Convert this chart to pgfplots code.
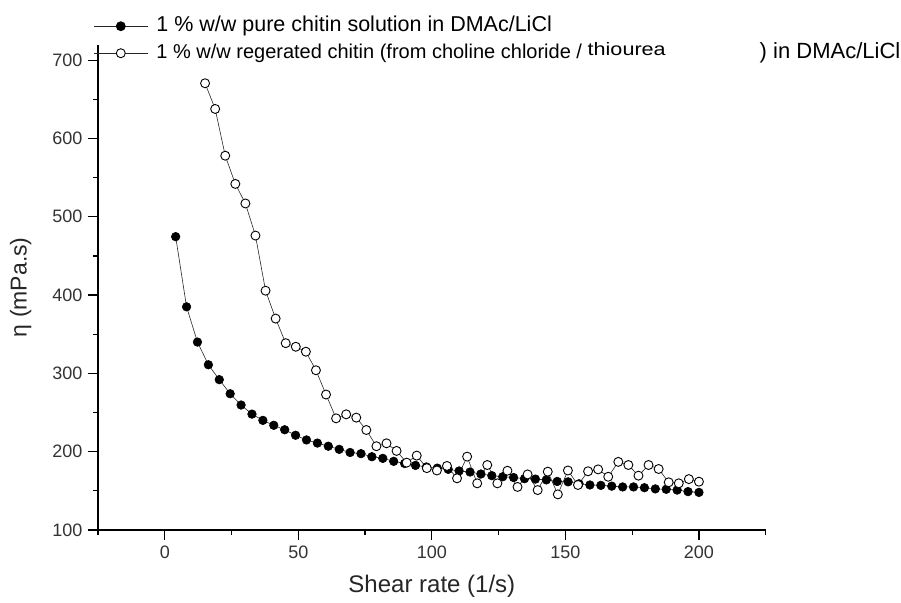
\documentclass[border=0pt]{standalone}
\usepackage{fontspec}
\setmainfont{Liberation Sans}
\usepackage{graphicx}
\usepackage{pgfplots}
\pgfplotsset{compat=1.18}

\pgfplotstableread{
x y
4.08 474.6
8.16 385
12.24 340
16.33 311
20.41 292
24.49 274
28.57 259.6
32.65 248
36.73 240
40.82 233.7
44.90 228
48.98 221
53.06 215
57.14 211
61.22 207
65.31 203
69.39 199
73.47 197.5
77.55 193.6
81.63 191.5
85.71 187.7
89.80 185
93.88 182.5
97.96 180.5
102.04 179
106.12 177.5
110.20 175.4
114.29 174
118.37 171.5
122.45 169.4
126.53 168
130.61 167
134.69 165.5
138.78 165
142.86 164
146.94 162
151.02 161.5
155.10 159
159.18 157.5
163.27 157
167.35 156
171.43 155
175.51 155
179.59 154
183.67 152.5
187.76 152
191.84 151
195.92 149
200.00 148
}\pure

\pgfplotstableread{
x y
15.09 670.5
18.87 637.7
22.64 578
26.42 542
30.19 517
33.96 476
37.74 405.6
41.51 370
45.28 338.6
49.06 334
52.83 327.7
56.60 304
60.38 273
64.15 242.6
67.92 247.7
71.70 243.5
75.47 227.7
79.25 207
83.02 210.7
86.79 201
90.57 186
94.34 195
98.11 179
101.89 176
105.66 181.8
109.43 166
113.21 193.7
116.98 159.6
120.75 183
124.53 159.6
128.30 175.7
132.08 155
135.85 171
139.62 151
143.40 174.5
147.17 145.5
150.94 176
154.72 157.5
158.49 175
162.26 177.4
166.04 168
169.81 187
173.58 183
177.36 169.4
181.13 183
184.91 177.9
188.68 160.9
192.45 159.6
196.23 165
200.00 161.7
}\regen

\begin{document}
\begin{tikzpicture}[x=1pt,y=1pt]
\useasboundingbox (0,0) rectangle (901,602);
\begin{axis}[
  at={(98pt,72pt)}, anchor=south west,
  scale only axis, width=667.7pt, height=485.5pt,
  xmin=-25, xmax=225, ymin=100, ymax=720,
  axis x line*=bottom, axis y line*=left,
  axis line style={line width=1.4pt, black},
  xtick={0,50,...,200}, ytick={100,200,...,700},
  minor xtick={-25,25,75,125,175,225}, minor ytick={150,250,...,650},
  tick align=outside, major tick length=10pt, minor tick length=5pt,
  every tick/.style={line width=1.2pt, black},
  ticklabel style={font=\fontsize{18}{18}\selectfont, text=black!80},
  /pgf/number format/assume math mode=true,
  xticklabel style={yshift=-2pt},
  yticklabel style={xshift=-2pt},
  xlabel={Shear rate (1/s)}, ylabel={η (mPa.s)},
  label style={text=black!85},
  xlabel style={font=\fontsize{24}{24}\selectfont, at={(axis description cs:0.5,0)}, anchor=north, yshift=-42pt},
  ylabel style={font=\fontsize{23}{23}\selectfont, at={(axis description cs:0,0.5)}, anchor=south, yshift=63pt},
  legend style={at={(-0.0075,1.0566)}, anchor=north west, draw=none, fill=none,
    inner sep=0pt, font=\fontsize{21.5}{21.5}\selectfont,
    nodes={inner sep=0pt, text height=14pt, text depth=4pt},
    row sep=9pt,
    /tikz/every odd column/.append style={column sep=8pt}},
  legend cell align=left,
  legend image code/.code={\draw[#1, line width=1.2pt, mark repeat=2, mark phase=2] plot coordinates {(0pt,0pt) (27pt,0pt) (54pt,0pt)};},
  clip=false,
]
\addplot[black!85, line width=0.6pt, mark=*, mark size=4.3pt, mark options={solid, fill=black, draw=black}] table {\pure};
\addlegendentry{1 \% w/w pure chitin solution in DMAc/LiCl}
\addplot[black!85, line width=0.6pt, mark=*, mark size=4.5pt, mark options={solid, fill=white, draw=black, line width=0.9pt}] table {\regen};
\addlegendentry{\fontsize{20}{20}\selectfont 1 \% w/w regerated chitin (from choline chloride / \raisebox{3pt}{\scalebox{1.2}[1]{\fontsize{18}{18}\selectfont thiourea}}\hspace{94pt}\fontsize{22}{22}\selectfont) in DMAc/LiCl}
\end{axis}
\end{tikzpicture}
\end{document}
